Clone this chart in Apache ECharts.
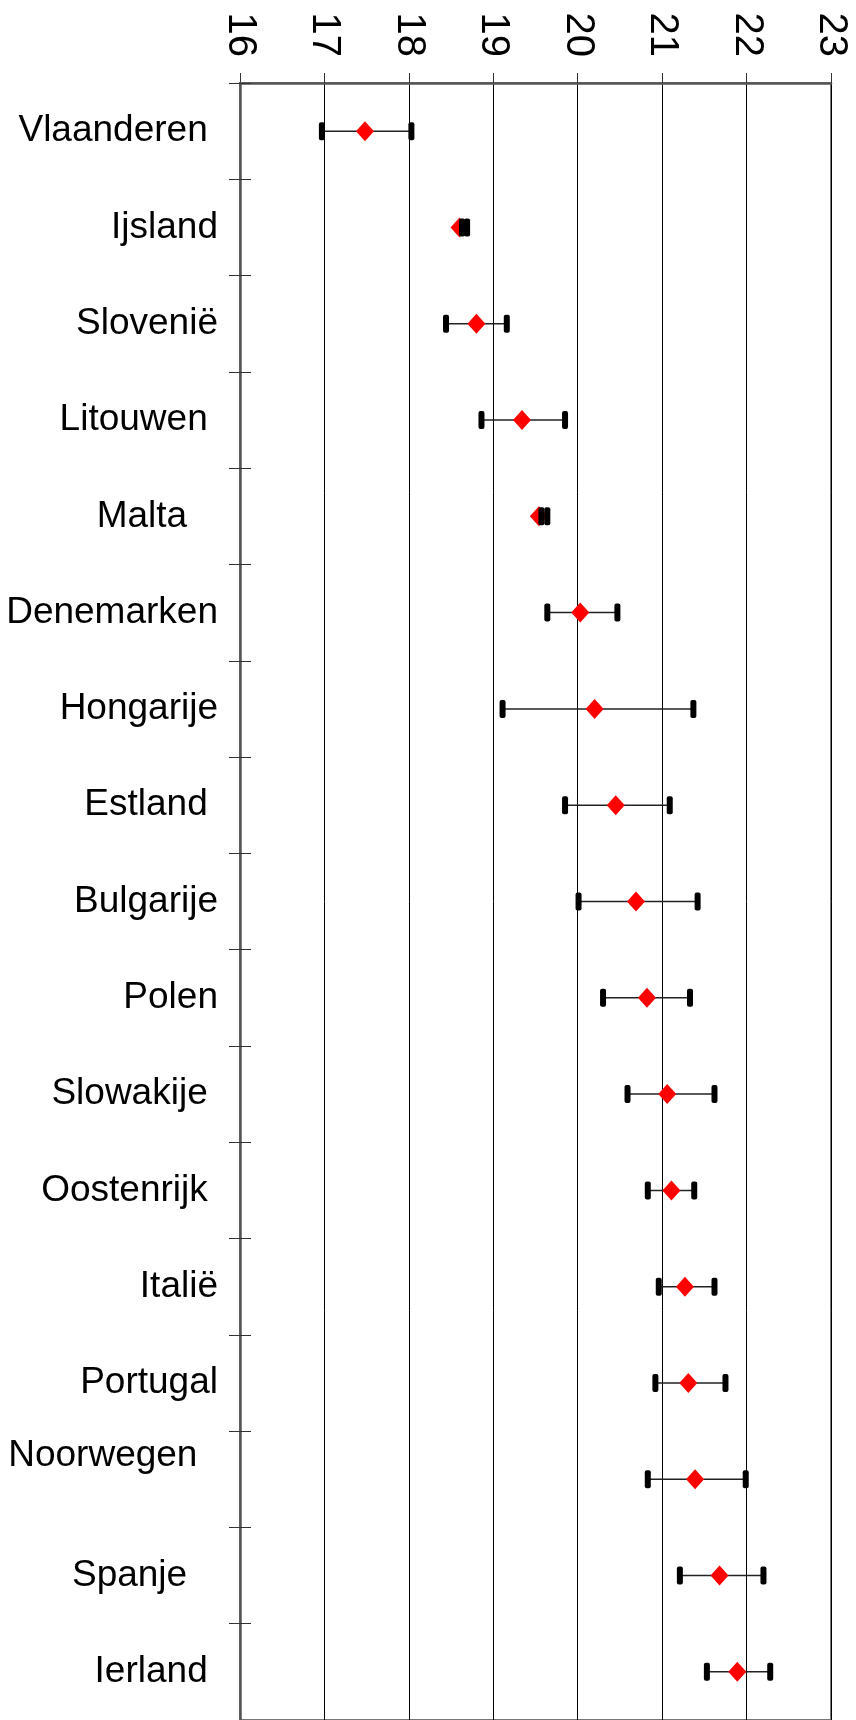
<!DOCTYPE html>
<html lang="nl">
<head>
    <meta charset="UTF-8">
    <title>Gemiddelde per land</title>
    <script src="https://cdn.jsdelivr.net/npm/echarts@6/dist/echarts.min.js"></script>
    <style>
        html, body { margin: 0; padding: 0; background: #fff; }
        #chart { width: 856px; height: 1720px; }
    </style>
</head>
<body>
<div id="chart"></div>
<script type="text/javascript">
    // landen (de spaties/newline staan zo in de oorspronkelijke labels)
    var landen = ['Vlaanderen ', 'Ijsland', 'Slovenië', 'Litouwen ', 'Malta   ', 'Denemarken',
        'Hongarije', 'Estland ', 'Bulgarije', 'Polen', 'Slowakije ', 'Oostenrijk ', 'Italië',
        'Portugal', 'Noorwegen  \n', 'Spanje   ', 'Ierland '];
    // ondergrens, gemiddelde en bovengrens
    var laag = [16.97, 18.63, 18.44, 18.86, 19.57, 19.64, 19.11, 19.85, 20.01, 20.30, 20.59, 20.83,
        20.96, 20.92, 20.83, 21.21, 21.53];
    var gemiddeld = [17.48, 18.60, 18.80, 19.34, 19.54, 20.03, 20.20, 20.45, 20.69, 20.82, 21.06, 21.11,
        21.27, 21.31, 21.39, 21.68, 21.89];
    var hoog = [18.03, 18.69, 19.16, 19.85, 19.64, 20.47, 21.37, 21.09, 21.42, 21.33, 21.62, 21.38,
        21.62, 21.75, 21.99, 22.20, 22.28];
    var asMin = 16, asMax = 23, asStap = 1;

    var foutData = [], puntData = [];
    for (var i = 0; i < landen.length; i++) {
        foutData.push([laag[i], hoog[i], i]);
        puntData.push([gemiddeld[i], i]);
    }

    function lijnItem(params, api) {
        var a = api.coord([api.value(0), api.value(2)]);
        var b = api.coord([api.value(1), api.value(2)]);
        return {
            type: 'line',
            shape: { x1: a[0], y1: a[1], x2: b[0], y2: b[1] },
            style: { stroke: '#222', lineWidth: 1.5 }
        };
    }

    function kapItem(params, api) {
        var a = api.coord([api.value(0), api.value(2)]);
        var b = api.coord([api.value(1), api.value(2)]);
        var w = 6, h = 18;
        return {
            type: 'group',
            children: [
                { type: 'rect', shape: { x: a[0] - w / 2, y: a[1] - h / 2, width: w, height: h, r: 2 }, style: { fill: '#000' } },
                { type: 'rect', shape: { x: b[0] - w / 2, y: b[1] - h / 2, width: w, height: h, r: 2 }, style: { fill: '#000' } }
            ]
        };
    }

    var myChart = echarts.init(document.getElementById('chart'));
    var option = {
        animation: false,
        textStyle: { fontFamily: 'Liberation Sans, Arial, sans-serif' },
        grid: {
            left: 240, right: 25, top: 83, bottom: 0,
            show: true, borderColor: '#777', borderWidth: 2
        },
        xAxis: {
            type: 'value',
            position: 'top',
            min: asMin, max: asMax, interval: asStap,
            axisLine: { show: true, lineStyle: { color: '#555', width: 2.5 } },
            axisTick: { show: true, length: 10, lineStyle: { color: '#333' } },
            axisLabel: { rotate: 90, fontSize: 40, color: '#000', margin: 26 },
            splitLine: { show: true, lineStyle: { color: '#000', width: 1 } }
        },
        yAxis: [
            {
                type: 'category',
                inverse: true,
                data: landen,
                boundaryGap: true,
                axisLine: { show: true, lineStyle: { color: '#555', width: 2.5 } },
                axisTick: { show: true, length: 11, interval: 0, lineStyle: { color: '#333' } },
                axisLabel: { fontSize: 37, color: '#000', margin: 22, interval: 0, lineHeight: 46 },
                splitLine: { show: false },
                z: 5
            },
            {
                // tweede as, iets naar binnen geschoven, alleen voor de tickjes rechts van de as
                type: 'category',
                inverse: true,
                position: 'left',
                offset: -11,
                data: landen,
                boundaryGap: true,
                axisLine: { show: false },
                axisTick: { show: true, length: 11, interval: 0, lineStyle: { color: '#333' } },
                axisLabel: { show: false },
                splitLine: { show: false },
                z: 5
            }
        ],
        series: [
            {
                name: 'lijn',
                type: 'custom',
                renderItem: lijnItem,
                encode: { x: [0, 1], y: 2 },
                data: foutData,
                z: 2
            },
            {
                name: 'gemiddelde',
                type: 'scatter',
                symbol: 'diamond',
                symbolSize: [18, 20],
                itemStyle: { color: '#ff0000', opacity: 1 },
                data: puntData,
                z: 3
            },
            {
                name: 'kap',
                type: 'custom',
                renderItem: kapItem,
                encode: { x: [0, 1], y: 2 },
                data: foutData,
                z: 4
            }
        ]
    };
    myChart.setOption(option);
</script>
</body>
</html>
